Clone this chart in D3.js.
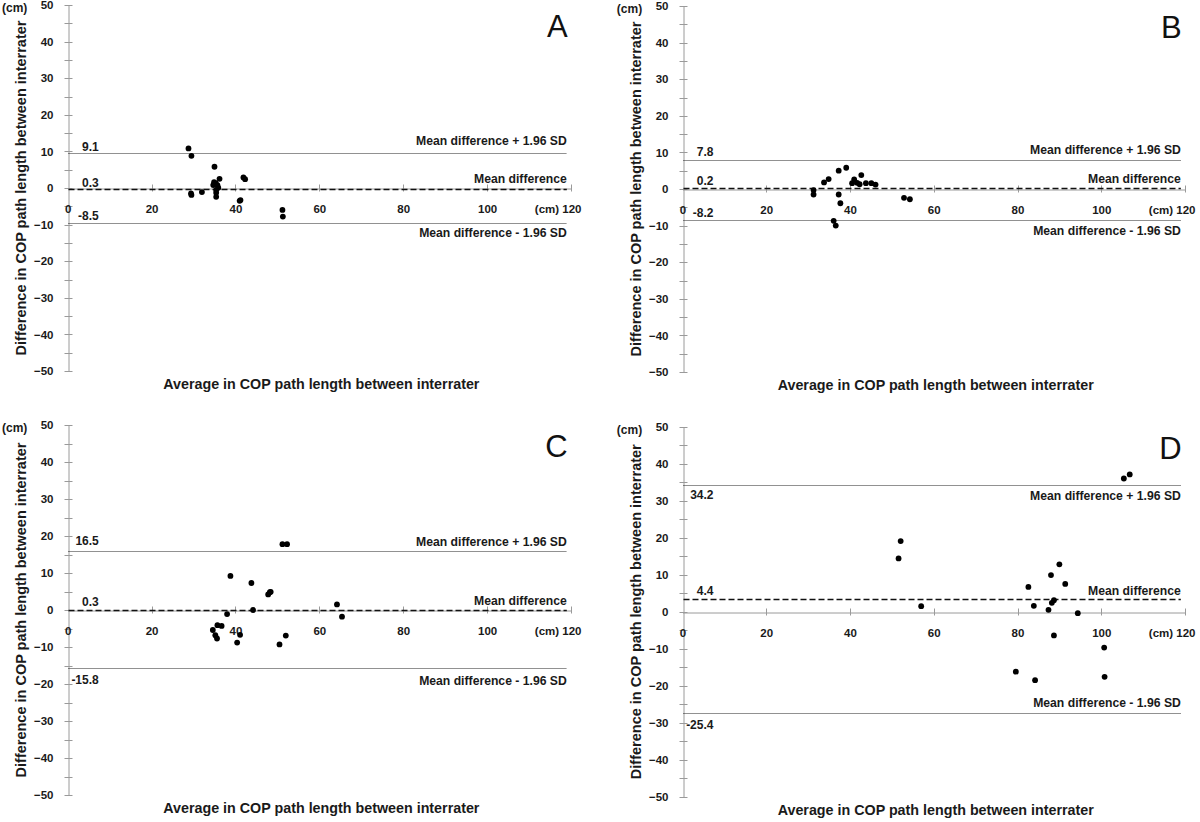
<!DOCTYPE html>
<html><head><meta charset="utf-8">
<script src="https://cdn.jsdelivr.net/npm/d3@7"></script>
<style>
body{margin:0;background:#fff;}
svg{display:block;font-family:"Liberation Sans",Arial,sans-serif;}
</style></head>
<body><svg id="c" width="1200" height="822"></svg>
<script>
// ---------- data ----------
const panelIds = ["A", "B", "C", "D"];
const xTicks = [0, 20, 40, 60, 80, 100, 120];
const yTicks = [-50, -40, -30, -20, -10, 0, 10, 20, 30, 40, 50];
const yMinorTicks = [-45, -35, -25, -15, -5, 5, 15, 25, 35, 45];
const xUnitLabel = "(cm)";
const yUnitLabel = "(cm)";
const xAxisTitle = "Average in COP path length between interrater";
const yAxisTitle = "Difference in COP path length between interrater";
const lineNames = ["Mean difference + 1.96 SD", "Mean difference", "Mean difference - 1.96 SD"];

const avgA  = [28.8, 29.5, 35.0, 36.2, 34.9, 35.3, 34.7, 35.7, 35.9, 35.4, 35.4, 35.4, 29.4, 29.5, 32.0, 41.9, 42.3, 41.0, 41.2, 51.2, 51.3];
const diffA = [10.8, 8.8, 5.8, 2.5, 1.6, 1.3, 0.8, 0.8, 0.1, -0.5, -1.3, -2.4, -1.5, -1.9, -1.1, 2.9, 2.4, -3.5, -3.3, -6.0, -7.8];
const avgB  = [31.3, 31.3, 33.8, 34.9, 37.3, 39.1, 40.5, 41.0, 41.7, 42.3, 42.7, 43.8, 45.1, 46.1, 37.3, 37.7, 36.1, 36.6, 52.9, 54.3];
const diffB = [-0.3, -1.5, 1.8, 2.7, 5.0, 5.8, 1.6, 2.6, 1.7, 1.3, 3.8, 1.6, 1.6, 1.2, -1.5, -3.9, -8.7, -10.0, -2.4, -2.8];
const avgC  = [51.2, 52.3, 38.8, 43.8, 47.8, 48.2, 48.4, 44.2, 38.0, 64.2, 65.4, 34.6, 35.7, 36.7, 35.2, 35.6, 41.1, 40.4, 50.5, 52.0];
const diffC = [17.8, 17.8, 9.2, 7.3, 4.2, 4.8, 4.9, 0.0, -1.1, 1.5, -1.8, -5.4, -4.1, -4.3, -6.8, -7.7, -6.7, -8.8, -9.3, -6.9];
const avgD  = [52.1, 51.6, 57.0, 82.6, 83.9, 87.4, 88.0, 90.0, 91.4, 88.2, 88.7, 94.4, 88.7, 79.6, 84.2, 105.4, 106.8, 100.7, 100.8];
const diffD = [19.1, 14.4, 1.5, 6.7, 1.6, 0.5, 9.9, 12.8, 7.5, 2.4, 3.1, -0.4, -6.4, -16.2, -18.5, 36.0, 37.1, -9.7, -17.6];

// limit lines as drawn (upper, mean, lower) and their printed labels
const levelsA = [9.5, -0.2, -9.5];   const levelLabelsA = ["9.1", "0.3", "-8.5"];
const levelsB = [8.0, 0.4, -8.6];    const levelLabelsB = ["7.8", "0.2", "-8.2"];
const levelsC = [15.9, 0.1, -15.8];  const levelLabelsC = ["16.5", "0.3", "-15.8"];
const levelsD = [34.2, 3.4, -27.4];  const levelLabelsD = ["34.2", "4.4", "-25.4"];

// ---------- layout ----------
const layout = {
  A: {x: [67.7, 571], y: [5, 371], avg: avgA, diff: diffA, lv: levelsA, ll: levelLabelsA,
      numDy: [-2, -2, -3], txtDy: [-8, -6, 14]},
  B: {x: [682.5, 1185], y: [6, 372], avg: avgB, diff: diffB, lv: levelsB, ll: levelLabelsB,
      numDy: [-4, -3, -3], txtDy: [-6, -5, 15]},
  C: {x: [67.7, 571], y: [425, 795], avg: avgC, diff: diffC, lv: levelsC, ll: levelLabelsC,
      numDy: [-6, -4, 16], txtDy: [-5, -5, 17]},
  D: {x: [682.5, 1185], y: [426.7, 796.7], avg: avgD, diff: diffD, lv: levelsD, ll: levelLabelsD,
      numDy: [14, -4, 16], txtDy: [15, -4, -6]}
};

const svg = d3.select("#c");
const axisColor = "#9a9a9a";
const textColor = "#1a1a1a";
const snap = v => Math.round(v) + 0.5;

panelIds.forEach(id => {
  const L = layout[id];
  const x = d3.scaleLinear().domain([0, 120]).range(L.x);
  const y = d3.scaleLinear().domain([-50, 50]).range([L.y[1], L.y[0]]);
  const g = svg.append("g");
  const x0 = snap(x(0)), y0 = snap(y(0));

  // y axis
  const yAx = g.append("g").attr("transform", `translate(${x0},0)`)
    .call(d3.axisLeft(y).tickValues(yTicks).tickSize(0).tickPadding(15).tickFormat(d3.format("d")));
  yAx.select(".domain").attr("stroke", axisColor);
  yAx.selectAll("text").attr("fill", textColor).attr("font-size", 11.5).attr("font-weight", "bold");
  g.selectAll(null).data(yTicks.concat(yMinorTicks)).enter().append("line")
    .attr("x1", x0 - 4).attr("x2", x0 + 4)
    .attr("y1", d => snap(y(d))).attr("y2", d => snap(y(d)))
    .attr("stroke", axisColor);

  // x axis at y = 0
  const xAx = g.append("g").attr("transform", `translate(0,${y0})`)
    .call(d3.axisBottom(x).tickValues(xTicks).tickSize(0).tickPadding(16)
      .tickFormat(d => d === 120 ? xUnitLabel + " 120" : String(d)));
  xAx.select(".domain").attr("stroke", axisColor);
  xAx.selectAll("text").attr("fill", textColor).attr("font-size", 11.5).attr("font-weight", "bold")
    .filter(d => d === 120).attr("text-anchor", "end").attr("dx", 10);
  g.selectAll(null).data(xTicks.slice(1)).enter().append("line")
    .attr("x1", d => snap(x(d))).attr("x2", d => snap(x(d)))
    .attr("y1", y0 - 4).attr("y2", y0 + 3)
    .attr("stroke", axisColor);

  // limit lines
  L.lv.forEach((v, i) => {
    const yy = snap(y(v));
    g.append("line")
      .attr("x1", x0).attr("x2", x(119)).attr("y1", yy).attr("y2", yy)
      .attr("stroke", i === 1 ? "#111" : "#222")
      .attr("stroke-width", i === 1 ? 1.5 : 1)
      .attr("stroke-dasharray", i === 1 ? "6,3" : "1,1");
    g.append("text").attr("x", x(7.4)).attr("y", y(v) + L.numDy[i])
      .attr("text-anchor", "end").attr("font-size", 12).attr("font-weight", "bold")
      .attr("fill", textColor).text(L.ll[i]);
    g.append("text").attr("x", x(119)).attr("y", y(v) + L.txtDy[i])
      .attr("text-anchor", "end").attr("font-size", 12.2).attr("font-weight", "bold")
      .attr("fill", textColor).text(lineNames[i]);
  });

  // points
  g.selectAll(null).data(L.avg.map((a, i) => [a, L.diff[i]])).enter().append("circle")
    .attr("cx", d => x(d[0])).attr("cy", d => y(d[1])).attr("r", 2.9).attr("fill", "#000");

  // unit label, titles, panel letter
  g.append("text").attr("x", x(0) - 53).attr("y", y(50) + 7)
    .attr("text-anchor", "middle").attr("font-size", 12).attr("font-weight", "bold")
    .attr("fill", textColor).text(yUnitLabel);
  g.append("text")
    .attr("transform", `translate(${x(0) - 47},${y(0)}) rotate(-90)`)
    .attr("text-anchor", "middle").attr("dominant-baseline", "central")
    .attr("font-size", 14.5).attr("font-weight", "bold").attr("fill", textColor).text(yAxisTitle);
  g.append("text").attr("x", (x(0) + x(120)) / 2 + 2).attr("y", y(-50) + 18)
    .attr("text-anchor", "middle").attr("font-size", 14.3).attr("font-weight", "bold")
    .attr("fill", textColor).text(xAxisTitle);
  g.append("text").attr("x", x(119.2)).attr("y", y(50) + 32)
    .attr("text-anchor", "end").attr("font-size", 31).attr("fill", "#111").text(id);
});
</script></body></html>
